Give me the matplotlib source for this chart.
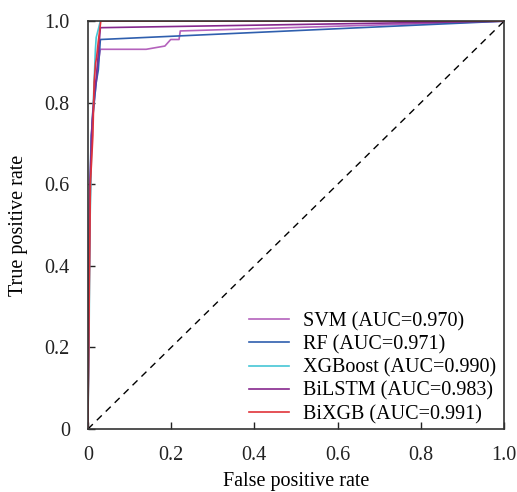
import matplotlib.pyplot as plt

plt.rcParams['font.family'] = ['Liberation Serif', 'DejaVu Serif']

# ROC curve points (FPR, TPR)
svm_fpr = [0, 0.002, 0.005, 0.01, 0.02, 0.025, 0.03, 0.14, 0.185, 0.199, 0.219, 0.222, 1.0]
svm_tpr = [0, 0.30, 0.55, 0.75, 0.85, 0.90, 0.931, 0.931, 0.939, 0.955, 0.955, 0.976, 1.0]

rf_fpr = [0, 0.002, 0.004, 0.008, 0.015, 0.02, 0.025, 0.03, 1.0]
rf_tpr = [0, 0.30, 0.55, 0.72, 0.80, 0.85, 0.88, 0.955, 1.0]

xgb_fpr = [0, 0.003, 0.005, 0.01, 0.013, 0.015, 0.018, 0.02, 0.025, 0.03, 1.0]
xgb_tpr = [0, 0.25, 0.50, 0.75, 0.80, 0.85, 0.93, 0.96, 0.98, 1.0, 1.0]

bilstm_fpr = [0, 0.003, 0.005, 0.01, 0.015, 0.02, 0.025, 0.03, 1.0]
bilstm_tpr = [0, 0.35, 0.60, 0.75, 0.82, 0.86, 0.92, 0.984, 1.0]

bixgb_fpr = [0, 0.003, 0.006, 0.012, 0.015, 0.0185, 0.021, 0.025, 0.031, 1.0]
bixgb_tpr = [0, 0.30, 0.60, 0.72, 0.85, 0.897, 0.912, 0.95, 1.0, 1.0]

labels = ['SVM (AUC=0.970)', 'RF (AUC=0.971)', 'XGBoost (AUC=0.990)',
          'BiLSTM (AUC=0.983)', 'BiXGB (AUC=0.991)']
colors = ['#b462bc', '#2f5fae', '#45c6d6', '#86288e', '#e0333a']
curves = [(svm_fpr, svm_tpr), (rf_fpr, rf_tpr), (xgb_fpr, xgb_tpr),
          (bilstm_fpr, bilstm_tpr), (bixgb_fpr, bixgb_tpr)]

fig = plt.figure(figsize=(5.17, 4.92), dpi=100)
ax = fig.add_axes([0.170, 0.128, 0.805, 0.829])

ax.plot([0, 1], [0, 1], 'k--', lw=1.0, dashes=(5, 4))
for (fx, ty), c, lab in zip(curves, colors, labels):
    ax.plot(fx, ty, color=c, lw=1.2, label=lab)

ax.set_xlim(0, 1)
ax.set_ylim(0, 1)
ticks = [0, 0.2, 0.4, 0.6, 0.8, 1.0]
ticklabels = ['0', '0.2', '0.4', '0.6', '0.8', '1.0']
ax.set_xticks(ticks)
ax.set_xticklabels(ticklabels)
ax.set_yticks(ticks)
ax.set_yticklabels(ticklabels)
ax.tick_params(direction='in', length=5, width=1, labelsize=14.5, colors='#222222')
ax.tick_params(axis='x', pad=12)
ax.tick_params(axis='y', pad=13)
for s in ax.spines.values():
    s.set_linewidth(1.2)
    s.set_color('#333333')

ax.set_xlabel('False positive rate', fontsize=14.5, labelpad=5)
ax.set_ylabel('True positive rate', fontsize=14.5, labelpad=12)

ax.legend(loc='lower right', frameon=False, fontsize=14.5, handlelength=2.0,
          handletextpad=0.7, labelspacing=0.2, borderaxespad=0.0,
          bbox_to_anchor=(1.0, -0.008))

fig.savefig('out.png', dpi=100)
